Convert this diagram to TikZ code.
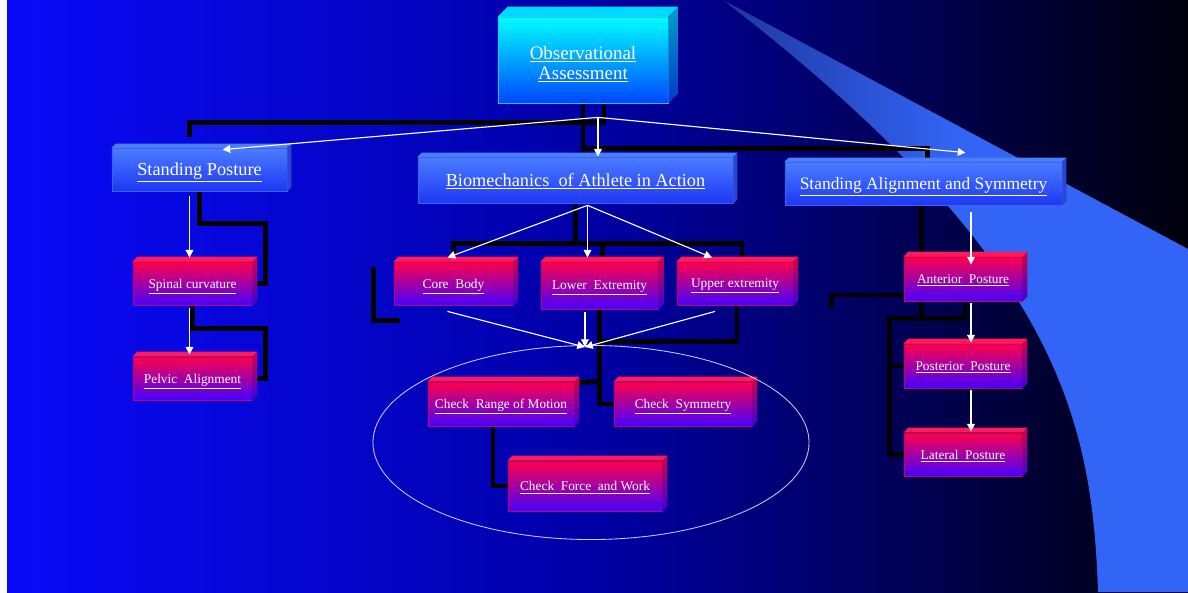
\documentclass[tikz,border=0pt]{standalone}
\usepackage{fontspec}
\setmainfont{Liberation Serif}
\usetikzlibrary{arrows.meta,positioning,shapes.geometric,backgrounds,calc}

\definecolor{bgleft}{RGB}{10,10,250}
\definecolor{bgmid}{RGB}{0,0,165}
\definecolor{bgright}{RGB}{0,0,12}
\definecolor{swdark}{RGB}{30,55,160}
\definecolor{swlight}{RGB}{50,100,245}
\definecolor{cyantop}{RGB}{0,255,255}
\definecolor{cyanbot}{RGB}{0,70,255}
\definecolor{cyanside}{RGB}{0,160,200}
\definecolor{bluetop}{RGB}{75,125,255}
\definecolor{bluebot}{RGB}{30,55,245}
\definecolor{blueline}{RGB}{60,100,235}
\definecolor{blueside}{RGB}{40,70,210}
\definecolor{redtop}{RGB}{255,0,75}
\definecolor{redbot}{RGB}{70,0,255}
\definecolor{redline}{RGB}{200,0,90}

% top and side faces of a box node: name, depth, top face, side face
\newcommand{\slab}[4]{%
  \path[#3] (#1.north west) -- ++(#2,-#2) -- ([shift={(#2,-#2)}]#1.north east) -- (#1.north east) -- cycle;
  \path[#4] (#1.north east) -- ++(#2,-#2) -- ([shift={(#2,-#2)}]#1.south east) -- (#1.south east) -- cycle;}

\begin{document}
\begin{tikzpicture}[x=0.025cm,y=-0.025cm,
  cyanbox/.style={rectangle,draw=cyan!80!white,line width=0.5pt,top color=cyantop,bottom color=cyanbot,
              text=white,font=\fontsize{13.5}{14.5}\selectfont,align=center,inner sep=0pt},
  bluebox/.style={rectangle,draw=blueline,line width=0.5pt,top color=bluetop,bottom color=bluebot,
              text=white,font=\fontsize{13}{15}\selectfont,inner sep=0pt,text depth=0pt,minimum height=1.075cm},
  redbox/.style={rectangle,draw=redline,line width=0.6pt,top color=redtop,bottom color=redbot,
              text=white,font=\fontsize{9.5}{11}\selectfont,inner sep=0pt,text depth=0pt,minimum height=1.1cm},
  conn/.style={line width=3.5pt,black},
  warr/.style={draw=white,line width=0.8pt,-{Triangle[width=5.5pt,length=5.5pt]}}
]
  \useasboundingbox (0,0) rectangle (1188,592);
  \begin{scope}[on background layer]
    \fill[white] (0,0) rectangle (1188,592);
    \fill[left color=bgleft,right color=bgright,middle color=bgmid] (7,0) rectangle (1188,592);
    \fill[left color=swdark,right color=swlight,middle color=swlight]
      (723,0) -- (1188,249) -- (1188,592) -- (1098,592) .. controls (1092,420) and (1060,260) .. (723,0) -- cycle;
  \end{scope}

  \node[cyanbox,minimum width=4.25cm,minimum height=2.15cm] (top) at (583,60)
    {\rule{0pt}{15.5pt}\underline{Observational}\\\underline{Assessment}};
  \slab{top}{10}{fill=cyantop!85!blue}{top color=cyanside,bottom color=cyanbot!80!black}

  \node[bluebox,minimum width=4.375cm] (stand) at (199.5,169.5) {\underline{Standing Posture}};
  \node[bluebox,minimum width=7.875cm,minimum height=1.15cm] (biomech) at (575.5,180)
    {\underline{Biomechanics\ \ of Athlete in Action}};
  \node[bluebox,minimum width=6.925cm,font=\fontsize{12.4}{15}\selectfont] (align) at (923.5,183.5)
    {\underline{Standing Alignment and Symmetry}};
  \foreach \b in {stand,biomech,align}
    \slab{\b}{4}{fill=bluetop}{fill=blueside};

  \node[redbox,minimum width=2.975cm,minimum height=1.075cm] (spinal) at (192.5,283.5) {\underline{Spinal curvature}};
  \node[redbox,minimum width=2.975cm,minimum height=1.075cm] (pelvic) at (192.5,378.5) {\underline{Pelvic\ \ Alignment}};
  \node[redbox,minimum width=2.975cm,minimum height=1.075cm] (core) at (453.5,283.5) {\underline{Core\ \ Body}};
  \node[redbox,minimum width=2.925cm,minimum height=1.175cm] (lower) at (599.5,285.5) {\underline{Lower\ \ Extremity}};
  \node[redbox,minimum width=2.9cm,minimum height=1.075cm] (upper) at (735,283.5) {\underline{Upper extremity}};
  \node[redbox,minimum width=3.65cm] (crm) at (501,404) {\underline{Check\ \ Range of Motion}};
  \node[redbox,minimum width=3.45cm] (csym) at (683,404) {\underline{Check\ \ Symmetry}};
  \node[redbox,minimum width=3.85cm,minimum height=1.25cm] (cfw) at (585,486) {\underline{Check\ \ Force\ \ and Work}};
  \node[redbox,minimum width=2.95cm] (ant) at (963,279) {\underline{Anterior\ \ Posture}};
  \node[redbox,minimum width=2.95cm] (post) at (963,366) {\underline{Posterior\ \ Posture}};
  \node[redbox,minimum width=2.95cm,minimum height=1.075cm] (lat) at (963,454.5) {\underline{Lateral\ \ Posture}};
  \foreach \r in {spinal,pelvic,core,lower,upper,crm,csym,cfw,ant,post,lat}
    \slab{\r}{5}{fill=redtop!90!white}{top color=redtop!85!black,bottom color=redbot!85!black};

  \node[ellipse,draw=white!80!blue,line width=0.6pt,minimum width=10.9cm,minimum height=4.85cm] (grp) at (591,442.5) {};

  % white arrows
  \coordinate (hub) at ([shift={(15,14)}]top.south);
  \draw[warr] (hub) -- ([shift={(23,2)}]stand.north);
  \draw[warr] (hub) -- (hub |- biomech.north);
  \draw[warr] (hub) -- ([shift={(42,-9)}]align.north);
  \draw[warr] ($(stand.south -| spinal.north)+(-3,5)$) -- ($(spinal.north)+(-3,-4)$);
  \draw[warr] ($(spinal.south)+(-3,3)$) -- ($(pelvic.north)+(-3,-2)$);

  \coordinate (fork) at ([shift={(12,2)}]biomech.south);
  \draw[warr] (fork) -- ([shift={(-6,-4)}]core.north);
  \draw[warr] (fork) -- ($(fork |- lower.north)+(0,-4)$);
  \draw[warr] (fork) -- ([shift={(-23,-4)}]upper.north);

  \coordinate (meet) at ([shift={(-6,2)}]grp.north);
  \draw[warr] ([shift={(-6,6)}]core.south) -- (meet);
  \draw[warr] ($(lower.south -| meet)+(0,3)$) -- (meet);
  \draw[warr] ([shift={(-20,6)}]upper.south) -- (meet);

  \draw[warr] ($(align.south -| ant.north)+(8,7)$) -- ($(ant.north)+(8,8)$);
  \draw[warr] ($(ant.south)+(8,2)$) -- ($(post.north)+(8,-1)$);
  \draw[warr] ($(post.south)+(8,2)$) -- ($(lat.north)+(8,-1)$);

  % black elbow connectors, behind the boxes
  \coordinate (stubA) at ([shift={(-20,-17)}]core.west);
  \coordinate (stubB) at ([shift={(-72,29)}]ant.west);
  \begin{scope}[on background layer]
    \draw[conn] ([shift={(21,0)}]top.south) -- ++(0,19) -| ([shift={(-10,-11)}]stand.north);
    \draw[conn] (top.south) -- (top.south |- biomech.north);
    \draw[conn] ([shift={(0,45)}]top.south) -| ([shift={(4,0)}]align.north);

    \draw[conn] (stand.south) -- ++(0,32) -| ([shift={(13,0)}]spinal.east) -- (spinal.east);
    \draw[conn] (spinal.south) -- ++(0,23) -| ([shift={(13,0)}]pelvic.east) -- (pelvic.east);

    \draw[conn] (biomech.south) -- ++(0,40) -| (core.north);
    \draw[conn] ($(biomech.south)+(0,40)$) -| ([shift={(7,0)}]upper.north);
    \draw[conn] ($(biomech.south)+(0,40)$) -| ([shift={(3,0)}]lower.north);
    \draw[conn] (stubA) |- ([shift={(6,37)}]core.west);
    \draw[conn] ([shift={(2,0)}]upper.south) |- ([shift={(0,32)}]lower.south) |- (csym.west);
    \draw[conn] (lower.south) -- ([shift={(0,32)}]lower.south);
    \draw[conn] ([shift={(0,1)}]crm.north east) -- (crm.north east -| lower.south);
    \draw[conn] ([shift={(-8,0)}]crm.south) |- (cfw.west);

    \draw[conn] ([shift={(-2,0)}]align.south) -- ++(0,113) -| ([shift={(-14,0)}]lat.west) -- (lat.west);
    \draw[conn] ([shift={(2,0)}]ant.south) |- ([shift={(-2,113)}]align.south);
    \draw[conn] ([shift={(-14,0)}]post.west) -- (post.west);
    \draw[conn] ([shift={(0,16)}]ant.west) -| (stubB);
  \end{scope}
\end{tikzpicture}
\end{document}
